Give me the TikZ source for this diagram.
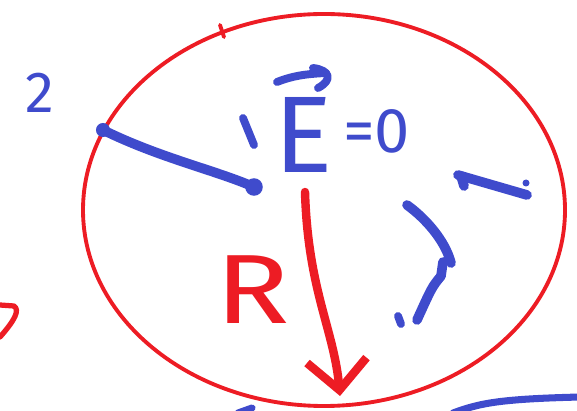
\documentclass[tikz,border=0pt]{standalone}
\usepackage{fontspec}
\newfontfamily\mano{Fira Sans}
\usetikzlibrary{positioning,arrows.meta}
\definecolor{rojo}{HTML}{ED1C24}
\definecolor{azul}{HTML}{3F4BCC}

\begin{document}
\begin{tikzpicture}[x=0.02cm,y=-0.02cm,
      borde/.style={rojo,line width=2.2pt,line cap=round,line join=round},
      trazo/.style={azul,line width=5.5pt,line cap=round,line join=round},
      flecha/.style={rojo,line width=4.8pt,line cap=round,line join=round,
                     -{Straight Barb[length=17pt,width=34pt]}},
      punto/.style={circle,fill=azul,inner sep=0pt,minimum size=#1},
      txt/.style={inner sep=0pt,font=\mano}]
    \useasboundingbox (0,0) rectangle (577,411);
    % esfera
    \draw[borde] (324,210) ellipse [x radius=241,y radius=196];
    \draw[borde] (220,25) -- (224,37);
    % radio azul
    \node[punto=8pt] (p2) at (103,130) {};
    \node[punto=10pt] (centro) at (254,187) {};
    \draw[trazo] (p2.center) .. controls (160,158) and (215,170) .. (centro.center);
    \node[txt,azul,font=\mano\fontsize{33}{33}\selectfont] (lab2) at (40,93) {2};
    % campo
    \node[txt,azul,anchor=base,font=\mano\fontsize{62}{62}\selectfont] (vecE) at (304,173) {E};
    \draw[trazo,line width=4.5pt] (277,82) .. controls (292,76) and (305,74) .. (326,73);
    \draw[trazo,line width=4.5pt] (313,68) .. controls (330,70) and (333,80) .. (318,88);
    \node[txt,azul,anchor=base west,font=\mano\fontsize{36}{36}\selectfont] (nulo) at (343,153) {=0};
    \draw[trazo,line width=4.5pt] (243,118) -- (254,145);
    % trazos a la derecha
    \draw[trazo] (458,175) -- (527,195);
    \draw[trazo] (461,176) -- (464,186);
    \fill[azul] (526,183) circle (3.5);
    \draw[trazo] (407,205) .. controls (425,218) and (445,240) .. (451,263);
    \draw[trazo] (443,262) -- (441,276) .. controls (432,287) .. (417,320);
    \draw[trazo,line width=4.5pt] (398,316) -- (401,324);
    % radio R
    \coordinate (arr) at (305,192);
    \coordinate (punta) at (340,396);
    \draw[flecha] (arr) .. controls (308,290) and (334,330) .. (punta);
    \node[txt,rojo,font=\mano\fontsize{56}{56}\selectfont] (labR) at (253,290) {\scalebox{1.25}[1]{R}};
    % restos en los bordes
    \draw[borde,line width=3pt] (0,305) -- (14,306) .. controls (20,310) and (15,320) .. (0,337);
    \draw[trazo,line width=4pt] (453,413) .. controls (480,403) and (500,399) .. (580,397);
    \draw[trazo,line width=4pt] (238,413) -- (252,408);
  \end{tikzpicture}
\end{document}
